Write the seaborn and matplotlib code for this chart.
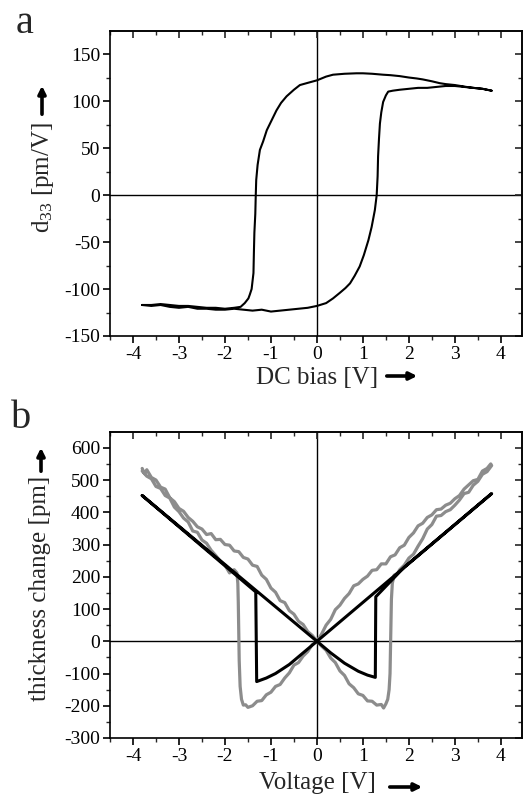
import numpy as np
import pandas as pd
import matplotlib
matplotlib.use("Agg")
import matplotlib.pyplot as plt
from matplotlib.ticker import MultipleLocator
import seaborn as sns

# ---------------- data: panel a (d33 hysteresis loop) ----------------
a_lower_v = [-3.80, -3.6, -3.4, -3.2, -3.0, -2.8, -2.6, -2.4, -2.2, -2.0, -1.8, -1.6, -1.4, -1.2,
             -1.0, -0.8, -0.6, -0.4, -0.2, 0.0, 0.2, 0.35, 0.5, 0.62, 0.72, 0.82, 0.93, 1.02, 1.12,
             1.19, 1.26, 1.30, 1.32, 1.33, 1.35, 1.37, 1.40, 1.44, 1.50, 1.55, 1.65, 1.8, 2.0, 2.2,
             2.4, 2.6, 2.8, 3.0, 3.2, 3.4, 3.6, 3.8]
a_lower_d = [-117, -118, -117, -119, -120, -119, -121, -121, -122, -122, -121, -122, -123, -122,
             -124, -123, -122, -121, -120, -118, -115, -110, -104, -99, -94, -86, -76, -64, -48,
             -34, -16, 0, 20, 41, 60, 76, 88, 99, 106, 110, 111, 112, 113, 114,
             114, 115, 116, 116, 115, 114, 113, 111]
a_upper_v = [3.8, 3.6, 3.4, 3.25, 3.0, 2.8, 2.67, 2.5, 2.3, 2.17, 2.0, 1.8, 1.6, 1.44, 1.2, 1.0,
             0.86, 0.6, 0.35, 0.2, 0.1, 0.0, -0.15, -0.37, -0.5, -0.66, -0.78, -0.88, -0.98, -1.09,
             -1.17, -1.24, -1.29, -1.32, -1.33, -1.34, -1.36, -1.37, -1.38, -1.42, -1.46, -1.49,
             -1.57, -1.66, -1.8, -2.0, -2.2, -2.4, -2.6, -2.8, -3.0, -3.2, -3.4, -3.6, -3.8]
a_upper_d = [111, 113, 114, 115, 117, 118, 119, 121, 123, 124, 125, 126.5, 127.5, 128, 129, 129.5,
             129.5, 129, 128, 126, 124, 122, 120, 117, 112, 105, 98, 90, 80, 69,
             57, 48, 32, 16, 0, -20, -40, -60, -83, -100, -106, -110,
             -115, -119, -120, -121, -120, -120, -119, -118, -118, -117, -116, -117, -117]

# ---------------- data: panel b (thickness change butterfly) ----------------
# measured (grey), one continuous sweep
g_armA_v = [-3.80, -3.75, -3.70, -3.6, -3.5, -3.4, -3.3, -3.2, -3.1, -3.0, -2.9, -2.8, -2.7, -2.6,
            -2.5, -2.4, -2.3, -2.2, -2.1, -2.0, -1.9, -1.8, -1.7, -1.6, -1.5, -1.4, -1.3, -1.2,
            -1.1, -1.0, -0.9, -0.8, -0.7, -0.6, -0.5, -0.4, -0.3, -0.2, -0.1, 0.0]
g_armA_t = [536, 520, 532, 508, 500, 478, 472, 445, 433, 412, 403, 384, 372, 355,
            348, 331, 334, 315, 316, 300, 298, 280, 278, 260, 255, 236, 232, 205,
            192, 165, 152, 126, 120, 95, 84, 62, 52, 30, 18, 0]
g_dipR_v = [0.1, 0.2, 0.3, 0.4, 0.5, 0.6, 0.7, 0.8, 0.9, 1.0, 1.1, 1.2, 1.3, 1.4, 1.45, 1.5,
            1.54, 1.57, 1.59, 1.60, 1.61, 1.62, 1.64, 1.68]
g_dipR_t = [-15, -28, -52, -66, -92, -106, -132, -144, -163, -168, -185, -186, -198, -196, -207, -194,
            -180, -150, -100, -20, 60, 130, 180, 205]
g_armB_v = [1.75, 1.8, 1.9, 2.0, 2.1, 2.2, 2.3, 2.4, 2.5, 2.6, 2.7, 2.8, 2.9, 3.0, 3.1, 3.2,
            3.3, 3.4, 3.5, 3.6, 3.7, 3.8]
g_armB_t = [210, 222, 236, 258, 270, 295, 318, 348, 362, 388, 390, 402, 408, 422, 438, 458,
            462, 484, 496, 518, 526, 545]
g_armC_v = [3.78, 3.7, 3.6, 3.5, 3.4, 3.3, 3.2, 3.1, 3.0, 2.9, 2.8, 2.7, 2.6, 2.5, 2.4, 2.3,
            2.2, 2.1, 2.0, 1.9, 1.8, 1.7, 1.6, 1.5, 1.4, 1.3, 1.2, 1.1, 1.0, 0.9, 0.8, 0.7,
            0.6, 0.5, 0.4, 0.3, 0.2, 0.1, 0.0]
g_armC_t = [550, 536, 528, 502, 498, 485, 472, 452, 442, 428, 422, 410, 408, 392, 384, 366,
            358, 336, 322, 298, 290, 268, 262, 240, 240, 222, 220, 202, 192, 178, 172, 148,
            133, 112, 98, 68, 50, 22, 0]
g_dipL_v = [-0.1, -0.2, -0.3, -0.4, -0.5, -0.6, -0.7, -0.8, -0.9, -1.0, -1.1, -1.2, -1.3, -1.4,
            -1.5, -1.55, -1.6, -1.64, -1.67, -1.69, -1.70, -1.71, -1.72, -1.74]
g_dipL_t = [-10, -32, -46, -66, -74, -98, -114, -134, -140, -158, -166, -184, -186, -200,
            -205, -197, -198, -180, -140, -60, 40, 120, 180, 212]
g_armD_v = [-1.8, -1.9, -2.0, -2.1, -2.2, -2.3, -2.4, -2.5, -2.6, -2.7, -2.8, -2.9, -3.0,
            -3.1, -3.2, -3.3, -3.4, -3.5, -3.6, -3.7, -3.8]
g_armD_t = [222, 212, 236, 248, 266, 282, 304, 314, 338, 342, 370, 382, 402,
            416, 444, 452, 474, 480, 504, 512, 528]

# model (black)
m_v = [-3.8, 0.0, 0.3, 0.6, 0.9, 1.1, 1.27, 1.28, 1.9, 3.8,
       0.0, -0.3, -0.6, -0.9, -1.1, -1.31, -1.33, -3.8]
m_t = [452, 0, -36, -68, -93, -105, -112, 138, 230, 458,
       0, -36, -72, -100, -114, -125, 153, 452]

xticks = [-4, -3, -2, -1, 0, 1, 2, 3, 4]
a_yticks = [-150, -100, -50, 0, 50, 100, 150]
b_yticks = [-300, -200, -100, 0, 100, 200, 300, 400, 500, 600]

# ---------------- figure ----------------
sns.set_theme(style="ticks")
plt.rcParams["font.family"] = ["Liberation Serif", "DejaVu Serif"]
plt.rcParams["mathtext.fontset"] = "custom"
plt.rcParams["mathtext.rm"] = "Liberation Serif"
plt.rcParams["mathtext.it"] = "Liberation Serif"

W, H = 523, 798
fig = plt.figure(figsize=(W / 100, H / 100), dpi=100)
fig.patch.set_facecolor("white")


def px_rect(left, top, right, bottom):
    return [left / W, 1 - bottom / H, (right - left) / W, (bottom - top) / H]


axA = fig.add_axes(px_rect(110, 31, 522, 336))
axB = fig.add_axes(px_rect(110, 432, 522, 738))

df_a = pd.DataFrame({
    "v": a_lower_v + a_upper_v,
    "d": a_lower_d + a_upper_d,
})
sns.lineplot(data=df_a, x="v", y="d", sort=False, estimator=None, color="black",
             lw=1.5, ax=axA)

g_v = g_armA_v + g_dipR_v + g_armB_v + g_armC_v + g_dipL_v + g_armD_v
g_t = g_armA_t + g_dipR_t + g_armB_t + g_armC_t + g_dipL_t + g_armD_t
df_g = pd.DataFrame({"v": g_v, "t": g_t})
df_m = pd.DataFrame({"v": m_v, "t": m_t})
sns.lineplot(data=df_g, x="v", y="t", sort=False, estimator=None, color="#8c8c8c",
             lw=2.3, ax=axB)
sns.lineplot(data=df_m, x="v", y="t", sort=False, estimator=None, color="black",
             lw=2.2, ax=axB)


def style_axes(ax, ylim, yticks, ymajor, yminor):
    ax.set_xlim(-4.5, 4.46)
    ax.set_ylim(*ylim)
    ax.axhline(0, color="black", lw=1.0, zorder=0)
    ax.axvline(0, color="black", lw=1.0, zorder=0)
    ax.set_xticks(xticks)
    ax.set_xticklabels([str(t) for t in xticks])
    ax.set_yticks(yticks)
    ax.set_yticklabels([str(t) for t in yticks])
    ax.xaxis.set_minor_locator(MultipleLocator(0.5))
    ax.yaxis.set_minor_locator(MultipleLocator(yminor))
    ax.tick_params(which="major", direction="out", length=5, width=1.2, labelsize=14,
                   pad=2, colors="black")
    ax.tick_params(which="minor", direction="out", length=3, width=1.0)
    for s in ax.spines.values():
        s.set_visible(True)
        s.set_linewidth(1.2)
        s.set_color("black")
    ax.set_xlabel("")
    ax.set_ylabel("")
    ax.set_facecolor("white")
    top = ax.secondary_xaxis("top")
    top.xaxis.set_major_locator(MultipleLocator(1))
    top.xaxis.set_minor_locator(MultipleLocator(0.5))
    top.tick_params(which="major", direction="in", length=5, width=1.2, labeltop=False)
    top.tick_params(which="minor", direction="in", length=3, width=1.0)
    right = ax.secondary_yaxis("right")
    right.yaxis.set_major_locator(MultipleLocator(ymajor))
    right.yaxis.set_minor_locator(MultipleLocator(yminor))
    right.tick_params(which="major", direction="in", length=5, width=1.2, labelright=False)
    right.tick_params(which="minor", direction="in", length=3, width=1.0)


style_axes(axA, (-150, 174.5), a_yticks, 50, 25)
style_axes(axB, (-300, 649), b_yticks, 100, 50)


def ftext(x, y, s, **kw):
    fig.text(x / W, 1 - y / H, s, **kw)


def farrow(x0, y0, x1, y1):
    fig.add_artist(matplotlib.patches.FancyArrowPatch(
        (x0 / W, 1 - y0 / H), (x1 / W, 1 - y1 / H), transform=fig.transFigure,
        arrowstyle="-|>", mutation_scale=11, lw=2.6, color="black"))


# panel letters
ftext(16, 33, "a", fontsize=29, va="baseline", ha="left")
ftext(11, 428, "b", fontsize=29, va="baseline", ha="left")

# axis labels
ftext(317, 378, "DC bias [V]", fontsize=18, ha="center", va="center")
farrow(384, 376, 420, 376)
ftext(43, 178, "d$_{33}$ [pm/V]", fontsize=18, ha="center", va="center", rotation=90)
farrow(42, 117, 42, 83)

ftext(317, 783, "Voltage [V]", fontsize=18, ha="center", va="center")
farrow(387, 787, 425, 787)
ftext(40, 588, "thickness change [pm]", fontsize=18, ha="center", va="center", rotation=90)
farrow(41, 474, 41, 445)

fig.savefig("out.png", dpi=100, facecolor="white")
